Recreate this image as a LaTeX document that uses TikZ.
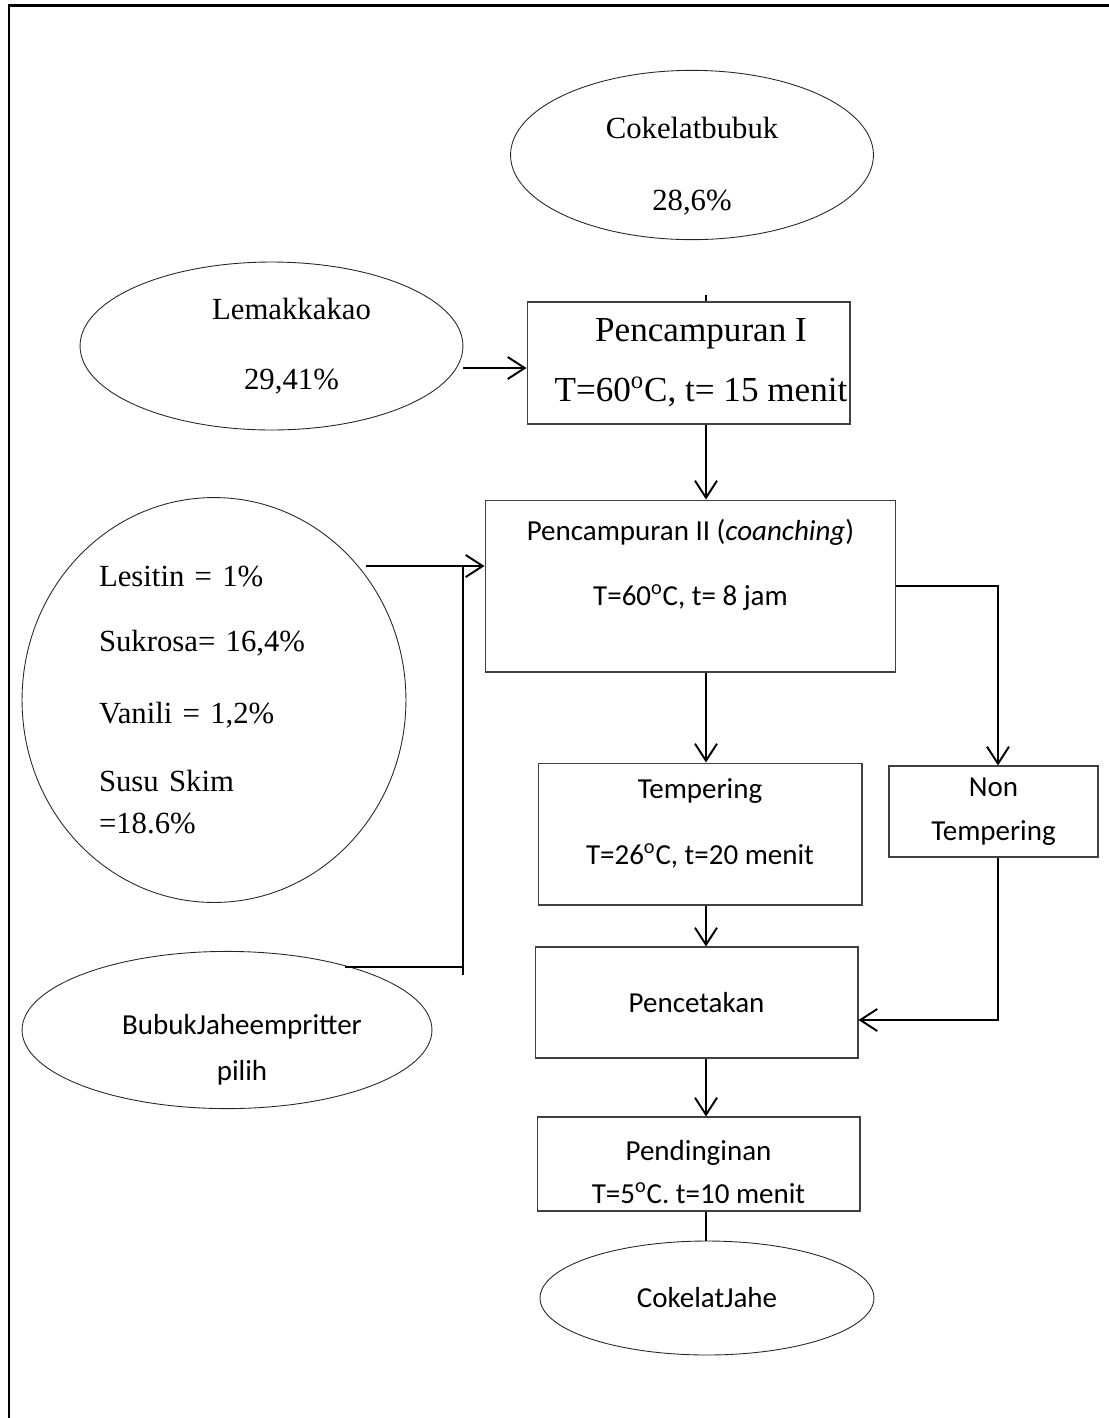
\documentclass[tikz,border=0pt]{standalone}
\usepackage{fontspec}
\setmainfont{Liberation Serif}
\newfontfamily\calibri{Carlito}
\usetikzlibrary{arrows.meta,positioning,calc,shapes.geometric}
\tikzset{
  flowbox/.style={draw=black!75,line width=0.6pt,align=center,inner sep=0pt},
  inputoval/.style={ellipse,draw=black!85,line width=0.5pt,align=center,inner sep=0pt},
  flowarrow/.style={-{Straight Barb[length=0.34cm,width=0.44cm]},line width=1.1pt},
  flowline/.style={line width=1.1pt},
  seriftext/.style={font=\rmfamily\fontsize{20}{#1}\selectfont},
  ovaltext/.style={font=\rmfamily\fontsize{17.5}{#1}\selectfont},
  sanstext/.style={font=\calibri\fontsize{16.5}{#1}\selectfont}
}

\begin{document}
\begin{tikzpicture}[x=0.02cm,y=-0.02cm]
  \useasboundingbox (0,0) rectangle (1109,1418);
  \draw[line width=1.7pt] (9,1418) -- (9,5) -- (1109,5);

  % bahan masuk
  \node[inputoval,ovaltext=41pt,minimum width=7.26cm,minimum height=3.24cm,text height=2.3cm] (cokbubuk) at (692,155) {Cokelatbubuk\\28,6\%};
  \node[inputoval,ovaltext=40pt,minimum width=7.66cm,minimum height=3.36cm] (lemak) at (271.5,346) {\hspace*{0.8cm}Lemakkakao\\\hspace*{0.8cm}29,41\%};
  \node[inputoval,ovaltext=24pt,minimum width=7.68cm,minimum height=8.1cm,text width=4.6cm,align=left] (campuran) at (214,700)
    {Lesitin = 1\%\\[13pt] Sukrosa= 16,4\%\\[17pt] Vanili = 1,2\%\\[14.5pt] Susu Skim\\=18.6\%};
  \node[inputoval,sanstext=26.6pt,minimum width=8.2cm,minimum height=3cm,text height=2.13cm] (jahe) at (227,1030) {\hspace*{0.6cm}BubukJaheempritter\\\hspace*{0.6cm}pilih};

  % proses
  \node[flowbox,seriftext=34pt,minimum width=6.46cm,minimum height=2.44cm] (pc1) at (688.5,363) {\hspace*{0.5cm}Pencampuran I\\\hspace*{0.5cm}T=60\textsuperscript{o}C, t= 15 menit};
  \node[flowbox,sanstext=37.4pt,minimum width=8.22cm,minimum height=3.44cm,text depth=0.95cm] (pc2) at (690.5,586) {Pencampuran II (\textit{coanching})\\T=60\textsuperscript{o}C, t= 8 jam};
  \node[flowbox,sanstext=38pt,minimum width=6.48cm,minimum height=2.84cm,text depth=0.5cm] (temper) at (700,834) {Tempering\\T=26\textsuperscript{o}C, t=20 menit};
  \node[flowbox,sanstext=25pt,minimum width=4.18cm,minimum height=1.82cm] (nontemper) at (993.5,811.5) {Non\\Tempering};
  \node[flowbox,sanstext=25pt,minimum width=6.46cm,minimum height=2.22cm] (cetak) at (696.5,1002.5) {Pencetakan};
  \node[flowbox,sanstext=24.4pt,minimum width=6.46cm,minimum height=1.88cm,text height=1.59cm] (dingin) at (698.5,1164) {Pendinginan\\T=5\textsuperscript{o}C. t=10 menit};
  \node[inputoval,sanstext=25pt,minimum width=6.68cm,minimum height=2.28cm] (cokjahe) at (707,1298) {CokelatJahe};

  % titik bantu
  \coordinate (spine) at (706,0);
  \coordinate (nonx) at (998,0);
  \coordinate (cbtick) at (706,295);
  \coordinate (lemakout) at (463,368);
  \coordinate (mixin) at (366,566);
  \coordinate (jointop) at (463,566);
  \coordinate (joinbot) at (463,975);
  \coordinate (jaheout) at (345,967);
  \coordinate (cetakin) at (998,1020);

  % alur
  \draw[flowline] (cbtick) -- (cbtick |- pc1.north);
  \draw[flowarrow] (lemakout) -- (lemakout -| pc1.west);
  \draw[flowarrow] (pc1.south -| spine) -- (pc2.north -| spine);
  \draw[flowarrow] (mixin) -- (mixin -| pc2.west);
  \draw[flowline] (jointop) -- (joinbot);
  \draw[flowline] (jaheout) -- (jaheout -| jointop);
  \draw[flowarrow] (pc2.south -| spine) -- (temper.north -| spine);
  \draw[flowarrow] (pc2.east) -- (pc2.east -| nonx) -- (nontemper.north -| nonx);
  \draw[flowarrow] (temper.south -| spine) -- (cetak.north -| spine);
  \draw[flowarrow] (nontemper.south -| nonx) -- (cetakin) -- (cetakin -| cetak.east);
  \draw[flowarrow] (cetak.south -| spine) -- (dingin.north -| spine);
  \draw[flowline] (dingin.south -| spine) -- (cokjahe.north -| spine);
\end{tikzpicture}
\end{document}
